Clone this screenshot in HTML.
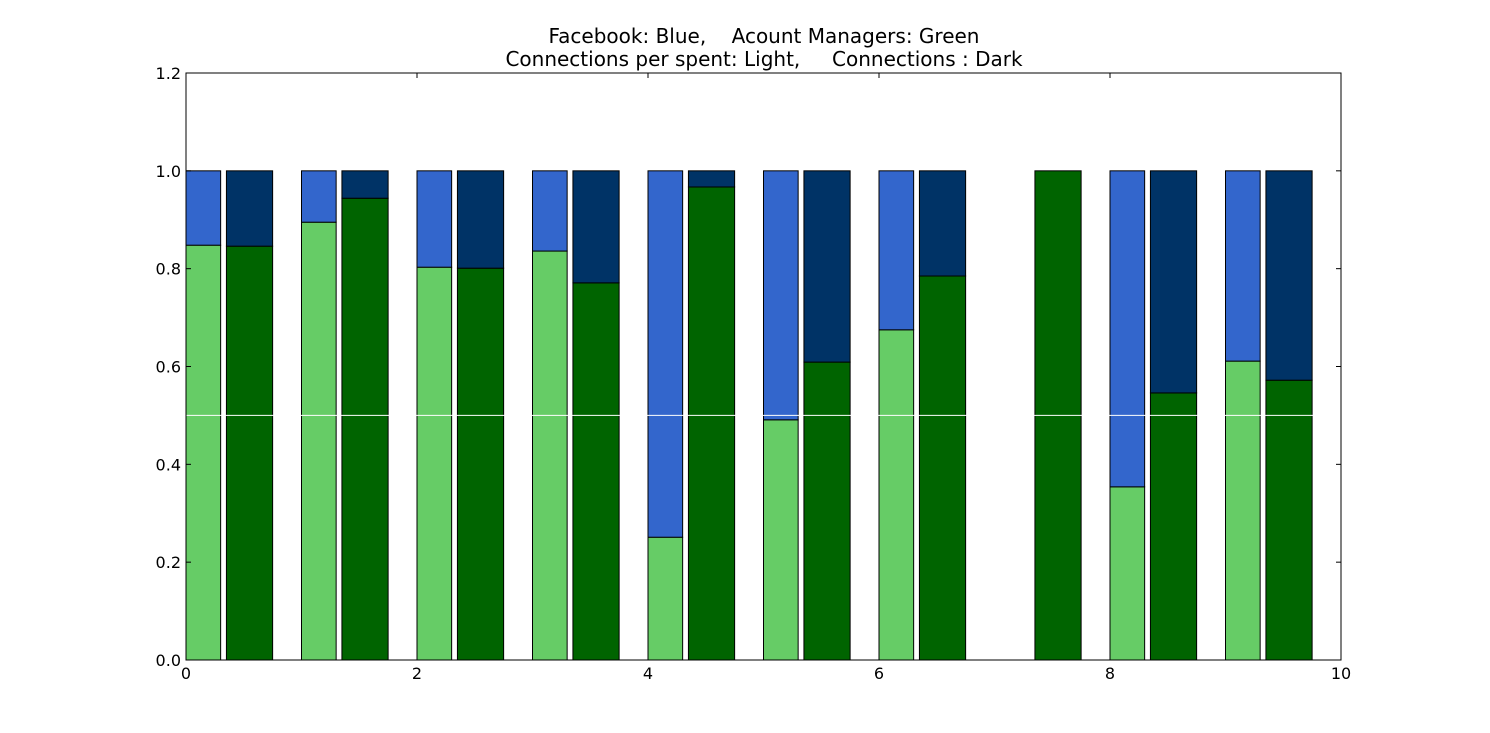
<!DOCTYPE html>
<html><head><meta charset="utf-8"><style>
body{margin:0;background:#fff;}
svg{display:block;font-family:"DejaVu Sans","Liberation Sans",sans-serif;}
text{white-space:pre;}
</style></head><body>
<svg id="chart" width="1490" height="733">
<text x="764" y="43" font-size="20" text-anchor="middle" xml:space="preserve">Facebook: Blue,    Acount Managers: Green</text>
<text x="764" y="66" font-size="20" text-anchor="middle" xml:space="preserve">Connections per spent: Light,     Connections : Dark</text>
<g id="bars"></g>
<g id="axes"></g>
</svg>
<script>
const categories=[0,1,2,3,4,5,6,7,8,9];
const lightGreen=[0.848,0.895,0.803,0.836,0.251,0.491,0.675,0,0.354,0.611];
const lightTotal=[1,1,1,1,1,1,1,0,1,1];
const darkGreen=[0.846,0.944,0.801,0.771,0.967,0.609,0.785,1.0,0.546,0.572];
const darkTotal=[1,1,1,1,1,1,1,1,1,1];
const xTicks=[0,2,4,6,8,10];
const yTicks=[0.0,0.2,0.4,0.6,0.8,1.0,1.2];
const X0=186,X1=1341,Y0=660,Y1=73;
const xs=v=>X0+(v/10)*(X1-X0);
const ys=v=>Y0-(v/1.2)*(Y0-Y1);
const NS="http://www.w3.org/2000/svg";
const bars=document.getElementById('bars'),axes=document.getElementById('axes');
function mk(tag,attrs,parent){const e=document.createElementNS(NS,tag);for(const k in attrs)e.setAttribute(k,attrs[k]);parent.appendChild(e);return e;}
function bar(x0,x1,v0,v1,fill,name){
  if(v1<=v0)return;
  const r=mk('rect',{x:xs(x0),y:ys(v1),width:xs(x1)-xs(x0),height:ys(v0)-ys(v1),fill:fill,stroke:'#000','stroke-width':1},bars);
  
  
}
categories.forEach((c,i)=>{
  bar(c,c+0.3,0,lightGreen[i],'#66cc66','bar-light-green-'+c);
  bar(c,c+0.3,lightGreen[i],lightTotal[i],'#3366cc','bar-light-blue-'+c);
  bar(c+0.35,c+0.75,0,darkGreen[i],'#006400','bar-dark-green-'+c);
  bar(c+0.35,c+0.75,darkGreen[i],darkTotal[i],'#003366','bar-dark-blue-'+c);
});
const ref=mk('line',{x1:X0,x2:X1,y1:ys(0.5),y2:ys(0.5),stroke:'#fff','stroke-width':1},axes);


const frame=mk('rect',{x:X0,y:Y1,width:X1-X0,height:Y0-Y1,fill:'none',stroke:'#000','stroke-width':1},axes);


xTicks.forEach(t=>{
  const x=xs(t);
  mk('line',{x1:x,x2:x,y1:Y0,y2:Y0-5,stroke:'#000'},axes);
  mk('line',{x1:x,x2:x,y1:Y1,y2:Y1+5,stroke:'#000'},axes);
  const tx=mk('text',{x:x,y:Y0+19,'font-size':16,'text-anchor':'middle'},axes);
  tx.textContent=String(t);
  
  
});
yTicks.forEach(t=>{
  const y=ys(t);
  mk('line',{x1:X0,x2:X0+5,y1:y,y2:y,stroke:'#000'},axes);
  mk('line',{x1:X1,x2:X1-5,y1:y,y2:y,stroke:'#000'},axes);
  const tx=mk('text',{x:X0-5,y:y+6,'font-size':16,'text-anchor':'end'},axes);
  tx.textContent=t.toFixed(1);
  
  
});
</script>
</body></html>
